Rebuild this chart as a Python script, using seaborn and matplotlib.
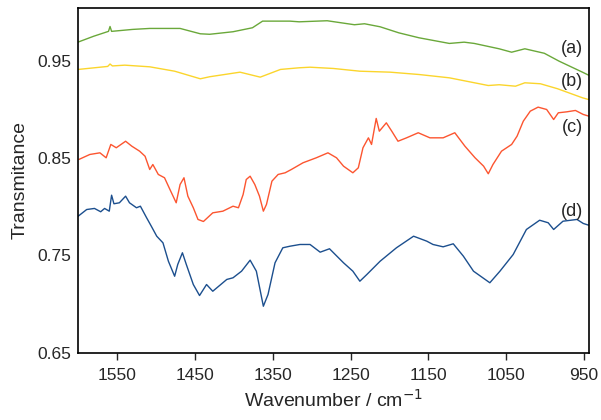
import pandas as pd
import numpy as np
import matplotlib.pyplot as plt
import seaborn as sns

# spectra: wavenumber (cm-1) and transmittance
wn_a = [1600, 1580, 1561, 1559, 1557, 1530, 1508, 1469, 1443, 1431, 1401, 1376, 1363, 1328,
        1316, 1280, 1245, 1232, 1212, 1188, 1162, 1123, 1104, 1091, 1059, 1043, 1026, 1001,
        982, 952, 944]
t_a = [0.969, 0.975, 0.980, 0.985, 0.980, 0.982, 0.983, 0.983, 0.9775, 0.977, 0.9796, 0.9837,
       0.9905, 0.9905, 0.9898, 0.9909, 0.9868, 0.9878, 0.9847, 0.9785, 0.9734, 0.9676, 0.9689,
       0.9676, 0.9621, 0.9586, 0.9621, 0.9575, 0.9494, 0.9381, 0.935]

wn_b = [1600, 1562, 1559, 1556, 1540, 1508, 1476, 1443, 1431, 1392, 1366, 1340, 1316, 1302,
        1272, 1238, 1199, 1162, 1123, 1073, 1059, 1038, 1026, 1006, 984, 952, 944]
t_b = [0.9409, 0.9440, 0.9465, 0.9445, 0.9453, 0.9436, 0.9391, 0.9313, 0.9334, 0.9381, 0.9330,
       0.9409, 0.9426, 0.9432, 0.9419, 0.9391, 0.9381, 0.9357, 0.9323, 0.9244, 0.9252, 0.9237,
       0.9272, 0.9262, 0.9211, 0.9118, 0.910]

wn_c = [1599, 1585, 1572, 1564, 1558, 1551, 1539, 1531, 1521, 1514, 1508, 1504, 1497, 1489,
        1482, 1474, 1469, 1464, 1459, 1452, 1446, 1439, 1427, 1414, 1401, 1394, 1388, 1384,
        1379, 1373, 1367, 1362, 1358, 1351, 1343, 1334, 1326, 1311, 1294, 1279, 1268, 1259,
        1247, 1240, 1234, 1227, 1223, 1217, 1213, 1204, 1197, 1189, 1178, 1163, 1148, 1131,
        1116, 1103, 1090, 1079, 1073, 1067, 1056, 1043, 1036, 1028, 1019, 1009, 998, 989,
        983, 972, 961, 951, 944]
t_c = [0.8485, 0.8536, 0.8553, 0.8502, 0.8639, 0.8605, 0.8672, 0.8621, 0.8570, 0.8518, 0.8382,
       0.8433, 0.8331, 0.8297, 0.8176, 0.8040, 0.8228, 0.8297, 0.8108, 0.7989, 0.7869, 0.7848,
       0.7937, 0.7954, 0.8005, 0.7989, 0.8125, 0.8279, 0.8313, 0.8228, 0.8108, 0.7954, 0.8023,
       0.8262, 0.8331, 0.8348, 0.8382, 0.8451, 0.8502, 0.8553, 0.8502, 0.8416, 0.8348, 0.8399,
       0.8605, 0.8707, 0.8639, 0.8906, 0.8775, 0.8861, 0.8775, 0.8672, 0.8707, 0.8759, 0.8707,
       0.8707, 0.8759, 0.8621, 0.8502, 0.8416, 0.8338, 0.8433, 0.8570, 0.8639, 0.8724, 0.8878,
       0.8981, 0.9022, 0.8998, 0.8895, 0.8964, 0.8974, 0.8988, 0.8947, 0.893]

wn_d = [1600, 1589, 1579, 1571, 1566, 1560, 1557, 1554, 1547, 1539, 1534, 1525, 1520, 1512,
        1506, 1499, 1491, 1484, 1476, 1472, 1466, 1461, 1452, 1444, 1435, 1427, 1409, 1401,
        1390, 1379, 1371, 1362, 1356, 1347, 1337, 1328, 1315, 1302, 1289, 1277, 1259, 1247,
        1238, 1229, 1212, 1191, 1169, 1152, 1144, 1131, 1118, 1105, 1092, 1071, 1058, 1041,
        1024, 1007, 996, 989, 977, 959, 951, 944]
t_d = [0.7902, 0.7971, 0.7982, 0.7948, 0.7982, 0.7954, 0.8118, 0.8030, 0.8040, 0.8108, 0.8040,
       0.7989, 0.8005, 0.7886, 0.7800, 0.7697, 0.7629, 0.7440, 0.7286, 0.7407, 0.7527, 0.7407,
       0.7201, 0.7088, 0.7201, 0.7132, 0.7253, 0.7270, 0.7338, 0.7451, 0.7338, 0.6978, 0.7099,
       0.7424, 0.7578, 0.7594, 0.7612, 0.7612, 0.7533, 0.7568, 0.7424, 0.7338, 0.7235, 0.7304,
       0.7440, 0.7578, 0.7697, 0.7646, 0.7612, 0.7588, 0.7619, 0.7492, 0.7338, 0.7219, 0.7338,
       0.7509, 0.7766, 0.7861, 0.7835, 0.7766, 0.7851, 0.7869, 0.7828, 0.781]

labels = ['(a)', '(b)', '(c)', '(d)']
label_y = [0.9624, 0.9285, 0.8813, 0.7951]
colors = ['#6aa83a', '#fbd52c', '#fc5530', '#1c4f8e']

sns.set_style('ticks')
plt.rcParams['font.family'] = ['Liberation Sans', 'DejaVu Sans']

fig = plt.figure(figsize=(6.01, 4.20), dpi=100)
ax = fig.add_axes([0.13, 0.16, 0.85, 0.821])

series = [(wn_a, t_a), (wn_b, t_b), (wn_c, t_c), (wn_d, t_d)]
for (wn, t), c in zip(series, colors):
    df = pd.DataFrame({'wn': wn, 't': t})
    sns.lineplot(data=df, x='wn', y='t', color=c, linewidth=1.0, sort=False,
                 estimator=None, ax=ax)

for lab, y in zip(labels, label_y):
    ax.text(965, y, lab, fontsize=13, ha='center', va='center')

ax.set_xlim(1600, 943.6)
ax.set_ylim(0.65, 1.004)
ax.set_xticks([1550, 1450, 1350, 1250, 1150, 1050, 950])
ax.set_yticks([0.65, 0.75, 0.85, 0.95])
ax.set_yticklabels(['0.65', '0.75', '0.85', '0.95'])
ax.tick_params(axis='x', direction='out', length=5, width=1, labelsize=12.5, pad=6)
ax.tick_params(axis='y', length=0, labelsize=12.5, pad=5)
for s in ax.spines.values():
    s.set_linewidth(1.2)
    s.set_color('black')

ax.set_xlabel('Wavenumber / cm$^{-1}$', fontsize=14, labelpad=4)
ax.set_ylabel('Transmitance', fontsize=14, labelpad=6)

fig.savefig('out.png', dpi=100)
